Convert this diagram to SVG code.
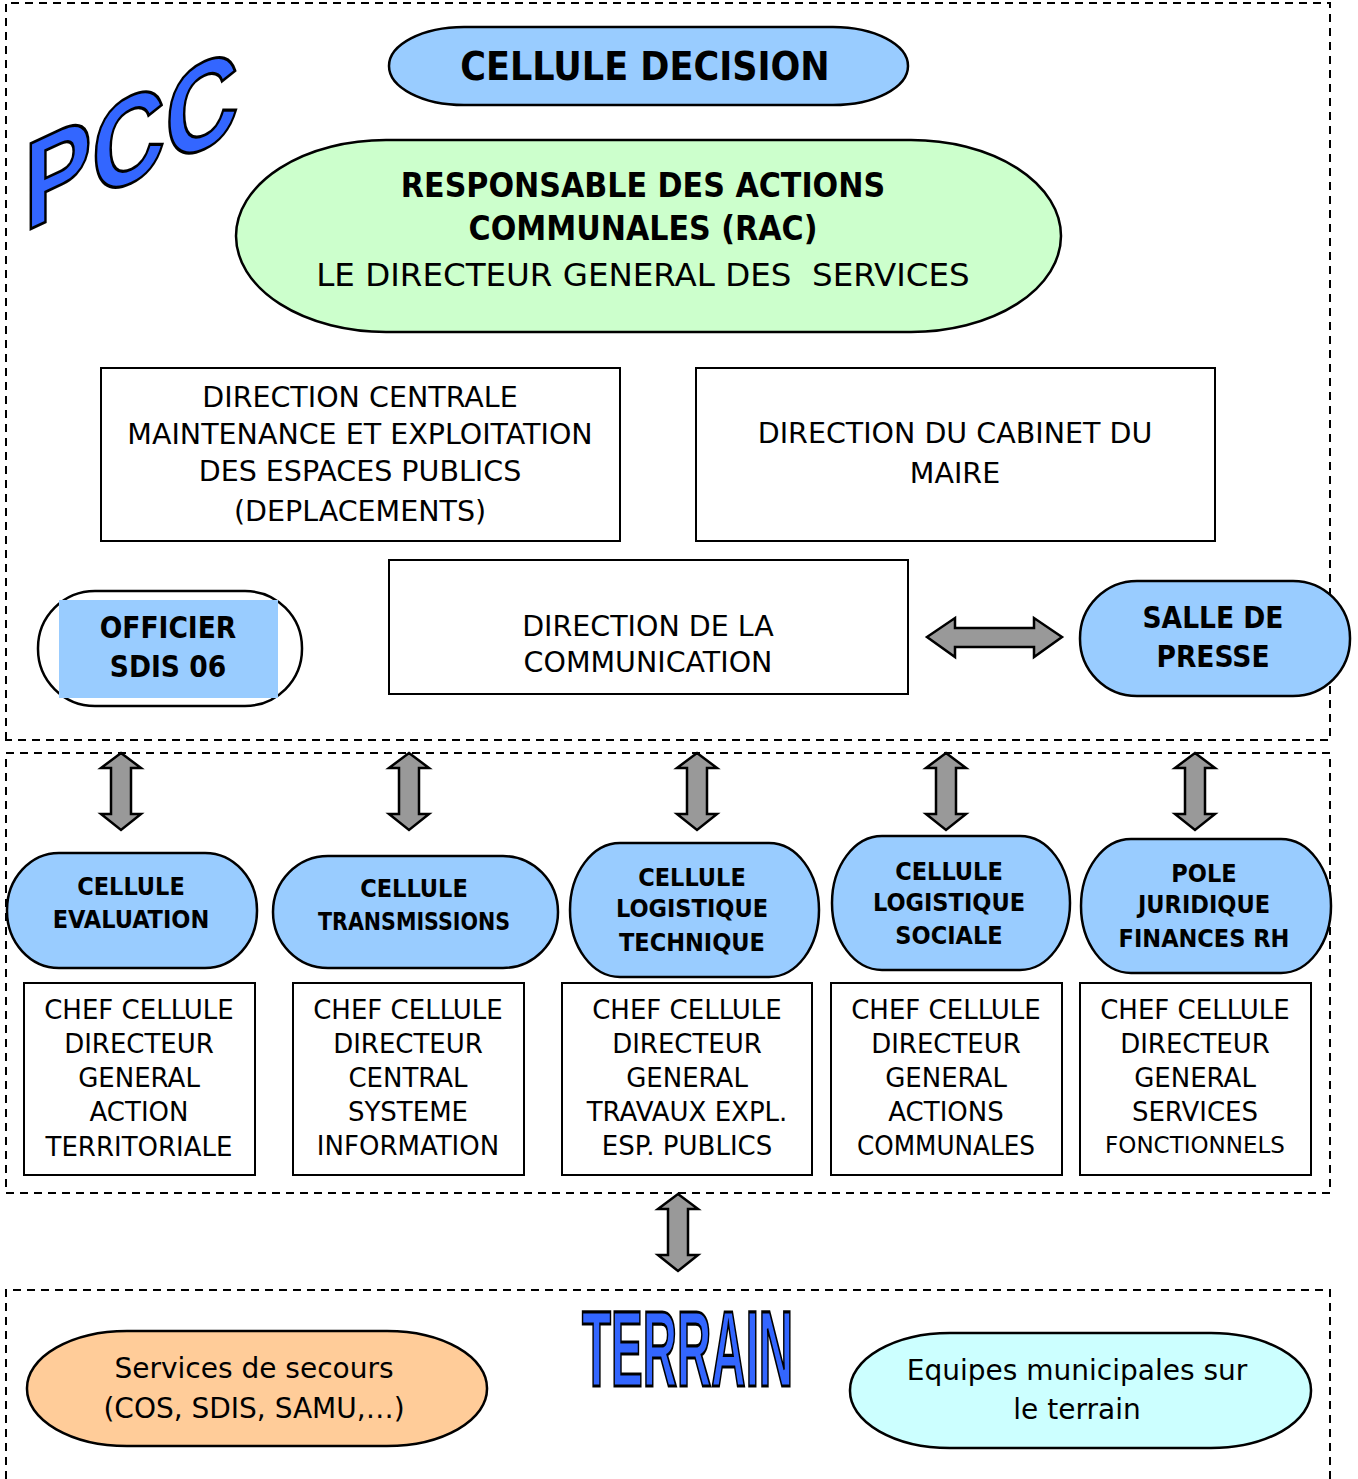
<svg xmlns="http://www.w3.org/2000/svg" width="1358" height="1479" viewBox="0 0 1358 1479">
<defs>
<style>
.frame{fill:none;stroke:#000;stroke-width:2;stroke-dasharray:8 6}
.box{fill:#fff;stroke:#000;stroke-width:2}
.blue{fill:#99ccff;stroke:#000;stroke-width:2.5}
.arrow{fill:#999;stroke:#000;stroke-width:2.5;stroke-linejoin:miter}
text{font-family:"DejaVu Sans","Liberation Sans",sans-serif;fill:#000;text-anchor:middle;dominant-baseline:central}
.b{font-family:"DejaVu Sans Condensed","DejaVu Sans",sans-serif;font-weight:bold}
.n28{font-size:28.5px}
.n27{font-size:26px}
.n30{font-size:28px}
.c{font-size:25px}
</style>
</defs>
<rect width="1358" height="1479" fill="#fff"/>
<g id="frames">
<path class="frame" d="M6,740 V3 H1330 V740 Z"/>
<path class="frame" d="M6,753 H1330 V1193 H6 Z"/>
<path class="frame" d="M6,1479 V1290 H1330 V1479"/>
</g>
<g id="pcc">
<text transform="translate(24,232) skewY(-25) scale(0.82,1)" x="0" y="0" style="dominant-baseline:auto;text-anchor:start;font-family:'Liberation Sans',sans-serif;font-weight:bold;font-size:124px;fill:#3366ff;stroke:#000;stroke-width:3">PCC</text>
</g>
<g id="cellule-decision">
<rect class="blue" x="389" y="27" width="519" height="78" rx="75" ry="39"/>
<text class="b" x="645" y="66" font-size="39">CELLULE DECISION</text>
</g>
<g id="rac">
<rect x="236" y="140" width="825" height="192" rx="150" ry="96" fill="#ccffcc" stroke="#000" stroke-width="2.5"/>
<text class="b" x="643" y="185" font-size="33.5">RESPONSABLE DES ACTIONS</text>
<text class="b" x="643" y="228" font-size="33.5">COMMUNALES (RAC)</text>
<text x="643" y="275" font-size="32.5" xml:space="preserve">LE DIRECTEUR GENERAL DES  SERVICES</text>
</g>
<g id="dir-centrale">
<rect class="box" x="101" y="368" width="519" height="173"/>
<text class="n28" x="360" y="397">DIRECTION CENTRALE</text>
<text class="n28" x="360" y="434">MAINTENANCE ET EXPLOITATION</text>
<text class="n28" x="360" y="471">DES ESPACES PUBLICS</text>
<text class="n28" x="360" y="511">(DEPLACEMENTS)</text>
</g>
<g id="dir-cabinet">
<rect class="box" x="696" y="368" width="519" height="173"/>
<text class="n28" x="955" y="433">DIRECTION DU CABINET DU</text>
<text class="n28" x="955" y="473">MAIRE</text>
</g>
<g id="dir-communication">
<rect class="box" x="389" y="560" width="519" height="134"/>
<text class="n28" x="648" y="626">DIRECTION DE LA</text>
<text class="n28" x="648" y="662">COMMUNICATION</text>
</g>
<g id="officier">
<rect x="38" y="591" width="264" height="115" rx="57" ry="57" fill="#fff" stroke="#000" stroke-width="2.5"/>
<rect x="59" y="600" width="219" height="98" fill="#99ccff"/>
<text class="b" x="168" y="628" font-size="29.5">OFFICIER</text>
<text class="b" x="168" y="667" font-size="29.5">SDIS 06</text>
</g>
<g id="salle-presse">
<rect class="blue" x="1080" y="581" width="270" height="115" rx="57" ry="57"/>
<text class="b" x="1213" y="618" font-size="29.5">SALLE DE</text>
<text class="b" x="1213" y="657" font-size="29.5">PRESSE</text>
</g>
<g id="cellule-evaluation">
<rect class="blue" x="7" y="853" width="250" height="115" rx="52" ry="57"/>
<text class="b c" x="131" y="886">CELLULE</text>
<text class="b c" x="131" y="919">EVALUATION</text>
</g>
<g id="cellule-transmissions">
<rect class="blue" x="273" y="856" width="285" height="112" rx="55" ry="56"/>
<text class="b c" x="414" y="888">CELLULE</text>
<text class="b c" x="414" y="921" textLength="192" lengthAdjust="spacingAndGlyphs">TRANSMISSIONS</text>
</g>
<g id="cellule-logistique-technique">
<rect class="blue" x="570" y="843" width="249" height="134" rx="50" ry="67"/>
<text class="b c" x="692" y="877">CELLULE</text>
<text class="b c" x="692" y="908">LOGISTIQUE</text>
<text class="b c" x="692" y="942">TECHNIQUE</text>
</g>
<g id="cellule-logistique-sociale">
<rect class="blue" x="832" y="836" width="238" height="134" rx="50" ry="67"/>
<text class="b c" x="949" y="871">CELLULE</text>
<text class="b c" x="949" y="902">LOGISTIQUE</text>
<text class="b c" x="949" y="935">SOCIALE</text>
</g>
<g id="pole-juridique">
<rect class="blue" x="1081" y="839" width="250" height="134" rx="50" ry="67"/>
<text class="b c" x="1204" y="873">POLE</text>
<text class="b c" x="1204" y="904">JURIDIQUE</text>
<text class="b c" x="1204" y="938">FINANCES RH</text>
</g>
<g id="chef-1">
<rect class="box" x="24" y="983" width="231" height="192"/>
<text class="n27" x="139" y="1010">CHEF CELLULE</text>
<text class="n27" x="139" y="1044">DIRECTEUR</text>
<text class="n27" x="139" y="1078">GENERAL</text>
<text class="n27" x="139" y="1112">ACTION</text>
<text class="n27" x="139" y="1147">TERRITORIALE</text>
</g>
<g id="chef-2">
<rect class="box" x="293" y="983" width="231" height="192"/>
<text class="n27" x="408" y="1010">CHEF CELLULE</text>
<text class="n27" x="408" y="1044">DIRECTEUR</text>
<text class="n27" x="408" y="1078">CENTRAL</text>
<text class="n27" x="408" y="1112">SYSTEME</text>
<text class="n27" x="408" y="1146">INFORMATION</text>
</g>
<g id="chef-3">
<rect class="box" x="562" y="983" width="250" height="192"/>
<text class="n27" x="687" y="1010">CHEF CELLULE</text>
<text class="n27" x="687" y="1044">DIRECTEUR</text>
<text class="n27" x="687" y="1078">GENERAL</text>
<text class="n27" x="687" y="1112">TRAVAUX EXPL.</text>
<text class="n27" x="687" y="1146">ESP. PUBLICS</text>
</g>
<g id="chef-4">
<rect class="box" x="831" y="983" width="231" height="192"/>
<text class="n27" x="946" y="1010">CHEF CELLULE</text>
<text class="n27" x="946" y="1044">DIRECTEUR</text>
<text class="n27" x="946" y="1078">GENERAL</text>
<text class="n27" x="946" y="1112">ACTIONS</text>
<text class="n27" x="946" y="1146" textLength="178" lengthAdjust="spacingAndGlyphs">COMMUNALES</text>
</g>
<g id="chef-5">
<rect class="box" x="1080" y="983" width="231" height="192"/>
<text class="n27" x="1195" y="1010">CHEF CELLULE</text>
<text class="n27" x="1195" y="1044">DIRECTEUR</text>
<text class="n27" x="1195" y="1078">GENERAL</text>
<text class="n27" x="1195" y="1112">SERVICES</text>
<text x="1195" y="1145" font-size="23">FONCTIONNELS</text>
</g>
<g id="terrain">
<text transform="translate(582,1386) scale(0.44,1)" x="0" y="0" style="dominant-baseline:auto;text-anchor:start;font-family:'Liberation Sans',sans-serif;font-weight:bold;font-size:108px;fill:#3366ff;stroke:#000;stroke-width:2.5" vector-effect="non-scaling-stroke">TERRAIN</text>
</g>
<g id="services-secours">
<rect x="27" y="1331" width="460" height="115" rx="100" ry="57" fill="#ffcc99" stroke="#000" stroke-width="2.5"/>
<text class="n30" x="254" y="1368">Services de secours</text>
<text class="n30" x="254" y="1408">(COS, SDIS, SAMU,…)</text>
</g>
<g id="equipes">
<rect x="850" y="1333" width="461" height="115" rx="100" ry="57" fill="#ccffff" stroke="#000" stroke-width="2.5"/>
<text class="n30" x="1077" y="1370">Equipes municipales sur</text>
<text class="n30" x="1077" y="1409">le terrain</text>
</g>
<g id="connectors">
<polygon class="arrow" points="927,637 955,618 955,628 1034,628 1034,618 1062,637 1034,657 1034,647 955,647 955,657"/>
<polygon class="arrow" points="121,753 141,768 131,768 131,814 141,814 121,830 101,814 111,814 111,768 101,768"/>
<polygon class="arrow" points="409,753 429,768 419,768 419,814 429,814 409,830 389,814 399,814 399,768 389,768"/>
<polygon class="arrow" points="697,753 717,768 707,768 707,814 717,814 697,830 677,814 687,814 687,768 677,768"/>
<polygon class="arrow" points="946,753 966,768 956,768 956,814 966,814 946,830 926,814 936,814 936,768 926,768"/>
<polygon class="arrow" points="1195,753 1215,768 1205,768 1205,814 1215,814 1195,830 1175,814 1185,814 1185,768 1175,768"/>
<polygon class="arrow" points="678,1194 698,1209 688,1209 688,1255 698,1255 678,1271 658,1255 668,1255 668,1209 658,1209"/>
</g>
</svg>
